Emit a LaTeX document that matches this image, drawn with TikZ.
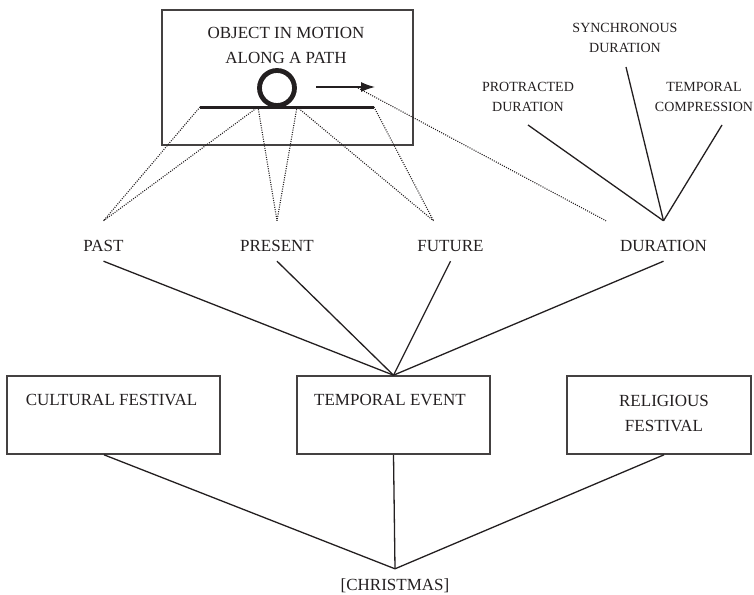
\documentclass[tikz,border=0pt]{standalone}
\usepackage{fontspec}
\setmainfont{Liberation Serif}
\usetikzlibrary{arrows.meta}
\definecolor{ink}{RGB}{35,31,32}
\begin{document}
\begin{tikzpicture}[x=1pt,y=-1pt,
  lab/.style={font=\fontsize{17}{25.5}\selectfont, text=ink, inner sep=0pt},
  big/.style={lab, text height=28pt, text depth=8pt, inner xsep=0pt, inner ysep=2pt, anchor=base},
  small/.style={font=\fontsize{14}{20}\selectfont, text=ink, inner sep=0pt, align=center, anchor=south},
  boxx/.style={draw=ink!85, line width=1.6pt, inner sep=0pt},
  conn/.style={draw=ink, line width=1.3pt},
  dots/.style={draw=ink, line width=1.1pt, dash pattern=on 1pt off 1.3pt},
]
\useasboundingbox (0,0) rectangle (754,594);

% top box
\node[boxx, minimum width=251pt, minimum height=135pt] (ob) at (287.5,77.5) {};
\node[lab, align=center, anchor=south] (obt) at (286,64) {OBJECT IN MOTION\\ALONG A PATH};
\coordinate (pl) at (200,107);
\coordinate (pr) at (374,107);
\coordinate (p1) at (258,107);
\coordinate (p2) at (297,107);
\draw[ink, line width=3pt] (pl) -- (pr);
\node[circle, draw=ink, line width=4.8pt, minimum size=35pt, inner sep=0pt] (ball) at (277,88) {};
\coordinate (as) at (316,87);
\coordinate (ae) at (375,87);
\draw[ink, line width=1.4pt, -{Latex[length=14pt,width=10pt]}] (as) -- (ae);
\coordinate (ad) at (358,88);

% middle labels
\node[big] (past) at (103.5,251) {PAST};
\node[big] (pres) at (277,251) {PRESENT};
\node[big] (fut) at (450.5,251) {FUTURE};
\node[big] (dur) at (663.5,251) {DURATION};

\draw[dots] (pl) -- (past.north);
\draw[dots] (p1) -- (past.north);
\draw[dots] (p1) -- (pres.north);
\draw[dots] (p2) -- (pres.north);
\draw[dots] (p2) -- ([xshift=-17pt]fut.north);
\draw[dots] (pr) -- ([xshift=-17pt]fut.north);
\draw[dots] (ad) -- ([xshift=-57.5pt]dur.north);

% top right
\node[small] (sd) at (625,53) {SYNCHRONOUS\\DURATION};
\node[small] (pd) at (528,112) {PROTRACTED\\DURATION};
\node[small] (tc) at (704,112) {TEMPORAL\\COMPRESSION};
\draw[conn] ([yshift=-14pt,xshift=1pt]sd.south) -- (dur.north);
\draw[conn] ([yshift=-13pt]pd.south) -- (dur.north);
\draw[conn] ([yshift=-13pt,xshift=18pt]tc.south) -- (dur.north);

% boxes
\node[boxx, minimum width=213pt, minimum height=78pt] (cf) at (113.5,415) {};
\node[lab, anchor=base] (cft) at ([yshift=-30pt,xshift=-2pt]cf.north) {CULTURAL FESTIVAL};
\node[boxx, minimum width=193pt, minimum height=78pt] (te) at (393.5,415) {};
\node[lab, anchor=base] (tet) at ([yshift=-30pt,xshift=-3.5pt]te.north) {TEMPORAL EVENT};
\node[boxx, minimum width=184pt, minimum height=78pt] (rf) at (659,415) {};
\node[lab, align=center, anchor=south] (rft) at (664,432) {RELIGIOUS\\FESTIVAL};

\draw[conn] (past.south) -- (te.north);
\draw[conn] (pres.south) -- (te.north);
\draw[conn] (fut.south) -- (te.north);
\draw[conn] (dur.south) -- (te.north);

% christmas
\node[lab, anchor=base, text height=14pt, inner ysep=7pt] (chr) at (395,590) {[CHRISTMAS]};
\draw[conn] ([xshift=-9.5pt]cf.south) -- (chr.north);
\draw[conn] (te.south) -- (chr.north);
\draw[conn] ([xshift=5pt]rf.south) -- (chr.north);
\end{tikzpicture}
\end{document}
